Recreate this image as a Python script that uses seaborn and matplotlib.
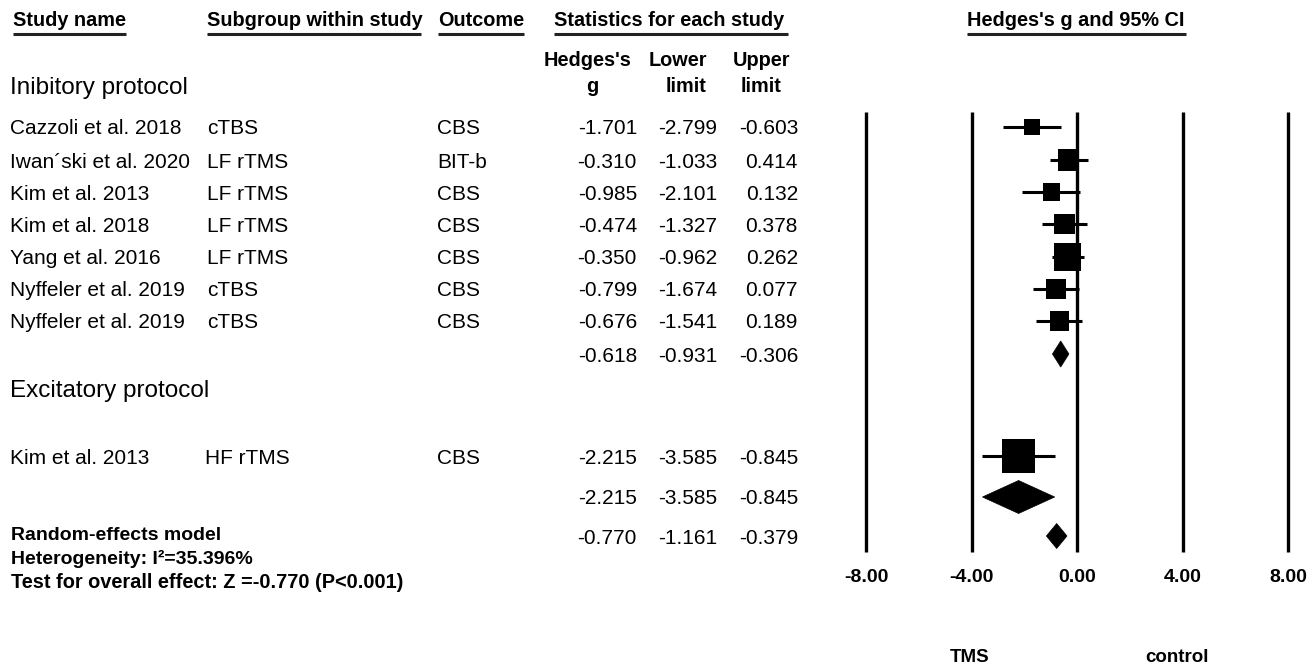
import matplotlib
matplotlib.use("Agg")
import matplotlib.pyplot as plt
import matplotlib.transforms as mtransforms
from matplotlib.patches import Polygon
import pandas as pd
import seaborn as sns

# ---- data -------------------------------------------------------------
inhib_study = ["Cazzoli et al. 2018", "Iwan\u00b4ski et al. 2020", "Kim et al. 2013",
               "Kim et al. 2018", "Yang et al. 2016", "Nyffeler et al. 2019",
               "Nyffeler et al. 2019"]
inhib_subgroup = ["cTBS", "LF rTMS", "LF rTMS", "LF rTMS", "LF rTMS", "cTBS", "cTBS"]
inhib_outcome = ["CBS", "BIT-b", "CBS", "CBS", "CBS", "CBS", "CBS"]
inhib_g = [-1.701, -0.310, -0.985, -0.474, -0.350, -0.799, -0.676]
inhib_lower = [-2.799, -1.033, -2.101, -1.327, -0.962, -1.674, -1.541]
inhib_upper = [-0.603, 0.414, 0.132, 0.378, 0.262, 0.077, 0.189]
inhib_weight = [256, 441, 289, 400, 729, 400, 361]   # relative box area
inhib_pooled = [-0.618, -0.931, -0.306]

excit_study = ["Kim et al. 2013"]
excit_subgroup = ["HF rTMS"]
excit_outcome = ["CBS"]
excit_g = [-2.215]
excit_lower = [-3.585]
excit_upper = [-0.845]
excit_weight = [1089]
excit_pooled = [-2.215, -3.585, -0.845]

overall = [-0.770, -1.161, -0.379]
i_squared = 35.396
z_value = -0.770

axis_ticks = [-8, -4, 0, 4, 8]
favours = ["TMS", "control"]

# ---- layout -------------------------------------------------------------
W, H = 1312, 671
inhib_rows = [127, 160, 192, 224, 257, 289, 321]
inhib_pool_row = 354
excit_rows = [456]
excit_pool_row = 497
overall_row = 536

sns.set_theme(style="white")
plt.rcParams["font.family"] = ["Liberation Sans", "DejaVu Sans"]

fig = plt.figure(figsize=(W / 100, H / 100), dpi=100)
ax = fig.add_axes([0, 0, 1, 1])
# g scale: -8 .. 8 spans 865 .. 1287 px, zero at 1077 px
ppu = (1287 - 865) / 16.0
zero_px = 1077
ax.set_xlim(-zero_px / ppu, (W - zero_px) / ppu)
ax.set_ylim(H, 0)
ax.axis("off")

tpx = mtransforms.blended_transform_factory(ax.transAxes, ax.transData)

def put(x, y, s, size=15, weight="normal", ha="left"):
    ax.text(x / W, y, s, transform=tpx, fontsize=size, fontweight=weight,
            ha=ha, va="center", color="black")

# column headers
headers = [(13, 126, "Study name"), (207, 421, "Subgroup within study"),
           (438, 524, "Outcome"), (554, 788, "Statistics for each study"),
           (967, 1186, "Hedges's g and 95% CI")]
for x0, x1, s in headers:
    put(x0, 20, s, size=14.3, weight="bold")
    ax.plot([x0 / W, x1 / W], [34, 34], transform=tpx, color="#222222",
            lw=2.2, solid_capstyle="butt")

put(588, 61, "Hedges's", size=14.3, weight="bold", ha="center")
put(592, 87, "g", size=14.3, weight="bold", ha="center")
put(678, 61, "Lower", size=14.3, weight="bold", ha="center")
put(686, 87, "limit", size=14.3, weight="bold", ha="center")
put(762, 61, "Upper", size=14.3, weight="bold", ha="center")
put(761, 87, "limit", size=14.3, weight="bold", ha="center")

put(10, 88, "Inibitory protocol", size=17.5)
put(10, 391, "Excitatory protocol", size=17.5)

num_cols = [637, 717, 798]

def stat_row(y, vals):
    for xr, v in zip(num_cols, vals):
        put(xr, y + 2, f"{v:.3f}", ha="right")

for y, st, sg, oc, g, lo, hi in zip(inhib_rows, inhib_study, inhib_subgroup,
                                    inhib_outcome, inhib_g, inhib_lower, inhib_upper):
    put(10, y + 2, st)
    put(207, y + 2, sg)
    put(437, y + 2, oc)
    stat_row(y, [g, lo, hi])
stat_row(inhib_pool_row, inhib_pooled)

for y, st, sg, oc, g, lo, hi in zip(excit_rows, excit_study, excit_subgroup,
                                    excit_outcome, excit_g, excit_lower, excit_upper):
    put(10, y + 2, st)
    put(205, y + 2, sg)
    put(437, y + 2, oc)
    stat_row(y, [g, lo, hi])
stat_row(excit_pool_row, excit_pooled)

put(11, overall_row, "Random-effects model", size=14, weight="bold")
stat_row(overall_row, overall)
put(11, 559, f"Heterogeneity: I\u00b2={i_squared:.3f}%", size=14, weight="bold")
put(11, 582, f"Test for overall effect: Z ={z_value:.3f} (P<0.001)", size=14.4, weight="bold")

# ---- forest panel -------------------------------------------------------
ax.vlines(axis_ticks, 112, 552, color="black", lw=2.4)
for t in axis_ticks:
    ax.text(t, 578, f"{t:.2f}", ha="center", va="center", fontsize=14,
            fontweight="bold", color="black")
put(970, 658, favours[0], size=13.5, weight="bold", ha="center")
put(1177, 658, favours[1], size=13.5, weight="bold", ha="center")

studies = pd.DataFrame({
    "g": inhib_g + excit_g,
    "lower": inhib_lower + excit_lower,
    "upper": inhib_upper + excit_upper,
    "weight": inhib_weight + excit_weight,
    "row": inhib_rows + excit_rows,
})
ax.hlines(studies["row"], studies["lower"], studies["upper"], color="black", lw=2.2)
sns.scatterplot(data=studies, x="g", y="row", size="weight", sizes=(133, 565),
                marker="s", color="black", linewidth=0, legend=False, ax=ax, zorder=3)
ax.set_xlim(-zero_px / ppu, (W - zero_px) / ppu)
ax.set_ylim(H, 0)
ax.axis("off")

def diamond(vals, y, half):
    g, lo, hi = vals
    ax.add_patch(Polygon([(lo, y), (g, y - half), (hi, y), (g, y + half)],
                         closed=True, facecolor="black", edgecolor="black", lw=0.5,
                         zorder=3))

diamond(inhib_pooled, inhib_pool_row, 13)
diamond(excit_pooled, excit_pool_row, 16.5)
diamond(overall, overall_row, 12.5)

fig.savefig("out.png", dpi=100, facecolor="white")
